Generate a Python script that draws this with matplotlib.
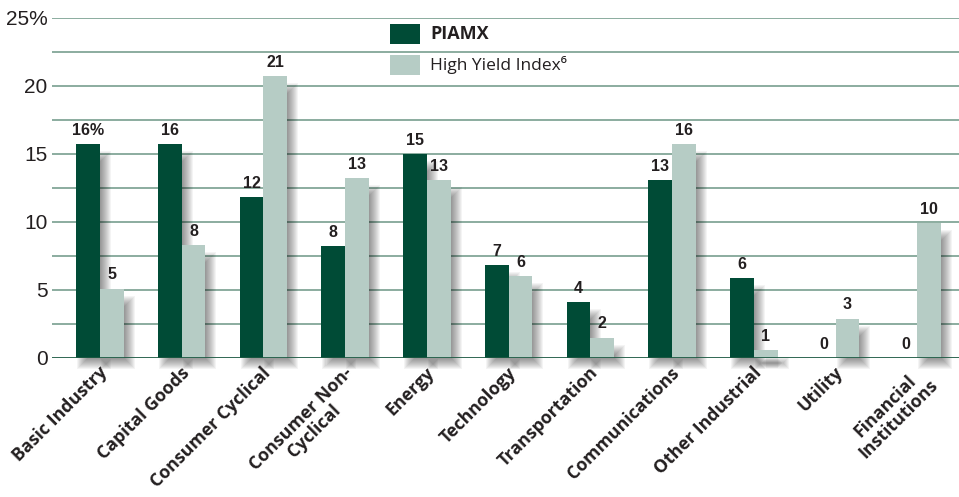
import numpy as np
import matplotlib.pyplot as plt
from matplotlib.patches import Rectangle

# Sector weights (%)
sectors = ['Basic Industry', 'Capital Goods', 'Consumer Cyclical', 'Consumer Non-\nCyclical',
           'Energy', 'Technology', 'Transportation', 'Communications',
           'Other Industrial', 'Utility', 'Financial\nInstitutions']
piamx = [15.7, 15.7, 11.8, 8.2, 15.0, 6.8, 4.1, 13.1, 5.9, 0.0, 0.0]
high_yield = [5.1, 8.3, 20.7, 13.2, 13.1, 6.0, 1.5, 15.7, 0.6, 2.9, 9.9]

dark = '#004b36'
light = '#b6ccc5'
grid_col = '#82a697'
txt = '#231f20'
narrow = ['Liberation Sans', 'DejaVu Sans']
sans = ['Open Sans', 'DejaVu Sans']

fig = plt.figure(figsize=(9.59, 4.97), dpi=100)
ax = fig.add_axes([0.054, 0.2797, 0.946, 0.6843])

x = np.arange(len(sectors))
w = 0.29
px_x = 1 / 81.7   # one pixel in x data units
px_y = 1 / 13.6   # one pixel in y data units

# gridlines every 2.5
for g in np.arange(2.5, 25.1, 2.5):
    ax.axhline(g, color=grid_col, lw=1.3, zorder=0)
ax.axhline(0, color='#1d5a43', lw=2, zorder=5)

# soft drop shadows (stacked translucent rectangles = blur)
dx, dy = 6, 6
for k in range(12):
    grow = (k - 6) * 1.0
    for xi, hv in zip(np.concatenate([x - w / 2, x + w / 2]), piamx + high_yield):
        if hv <= 0:
            continue
        ax.add_patch(Rectangle((xi - w / 2 + (dx - grow) * px_x, -(dy + grow) * px_y),
                               w + 2 * grow * px_x, hv - 6 * px_y + 2 * grow * px_y,
                               facecolor='#000000', alpha=0.045, lw=0, zorder=1,
                               clip_on=False))

ax.bar(x - w / 2, piamx, w, color=dark, zorder=3)
ax.bar(x + w / 2, high_yield, w, color=light, zorder=3)

for i, (a, b) in enumerate(zip(piamx, high_yield)):
    la = '%d%%' % round(a) if i == 0 else '%d' % round(a)
    ax.text(x[i] - w / 2, a + 0.45, la, ha='center', va='bottom', fontsize=11.5,
            fontweight='bold', color=txt, family=narrow, zorder=6)
    ax.text(x[i] + w / 2, b + 0.45, '%d' % round(b), ha='center', va='bottom', fontsize=11.5,
            fontweight='bold', color=txt, family=narrow, zorder=6)

ax.set_xlim(-0.59, 10.51)
ax.set_ylim(0, 25)
ax.set_yticks([0, 5, 10, 15, 20, 25])
ax.set_yticklabels(['0', '5', '10', '15', '20', '25%'], family=narrow, fontsize=15, color=txt)
ax.tick_params(axis='y', length=0, pad=3)
ax.tick_params(axis='x', length=0, pad=4)
ax.set_xticks(x - 0.02)
ax.set_xticklabels(sectors, rotation=45, ha='right', rotation_mode='anchor',
                   fontsize=12.8, fontweight='bold', color=txt, family=sans,
                   multialignment='center', linespacing=1.0)
for s in ax.spines.values():
    s.set_visible(False)

# legend
ax.add_patch(Rectangle((3.55, 23.09), 0.367, 1.47, facecolor=dark, lw=0, zorder=4))
ax.add_patch(Rectangle((3.55, 20.8), 0.367, 1.47, facecolor=light, lw=0, zorder=4))
ax.text(4.04, 23.82, 'PIAMX', fontsize=13, fontweight='bold', va='center', color=txt,
        family=sans)
ax.text(4.04, 21.53, 'High Yield Index⁶', fontsize=12.5, va='center', color=txt,
        family=sans)

plt.savefig('out.png', dpi=100)
